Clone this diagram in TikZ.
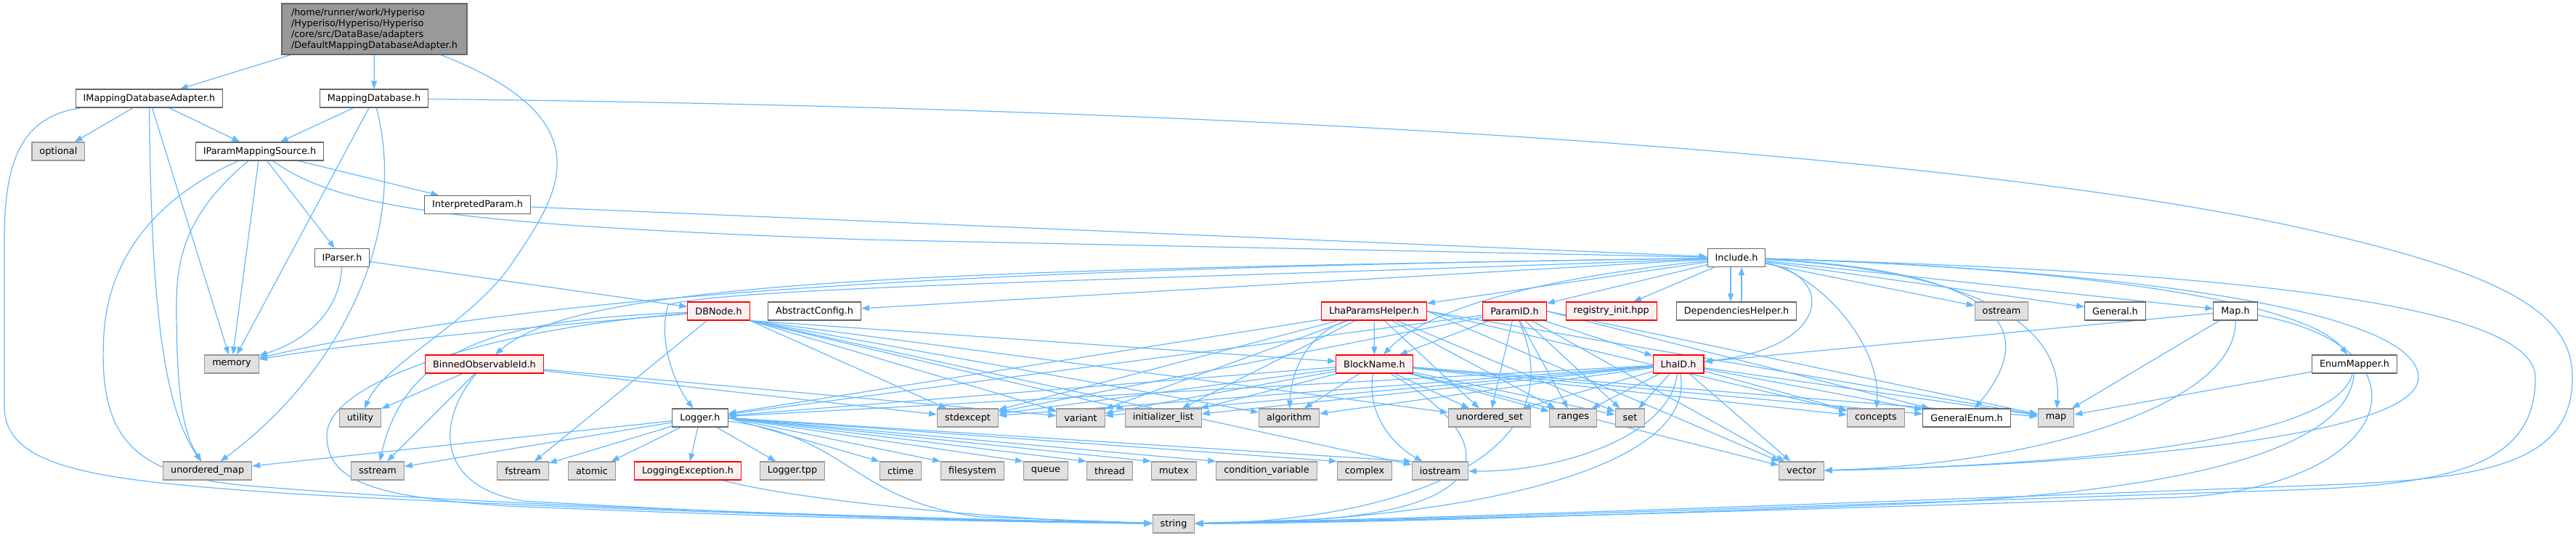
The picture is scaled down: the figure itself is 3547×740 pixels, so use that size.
\documentclass[tikz,border=0pt]{standalone}
\usepackage{fontspec}
\setmainfont{DejaVu Sans}
\usepackage{tikz}
\usetikzlibrary{positioning}
\usetikzlibrary{arrows.meta,backgrounds}
\definecolor{incblue}{HTML}{63B8FF}
\definecolor{sysgray}{HTML}{E0E0E0}
\definecolor{sysline}{HTML}{999999}
\definecolor{userline}{HTML}{666666}
\definecolor{truncpink}{HTML}{FFF0F0}
\tikzstyle{inc edge}=[-{Triangle[length=11pt,width=8pt]},draw=incblue,line width=1.2pt]
\tikzstyle{file box}=[rectangle,draw,line width=1.1pt,minimum height=25pt,inner xsep=10.5pt,inner ysep=0pt,font=\fontsize{12.8pt}{15pt}\selectfont]
\tikzstyle{sys file}=[file box,draw=sysline,fill=sysgray]
\tikzstyle{user file}=[file box,draw=userline,fill=white]
\tikzstyle{trunc file}=[file box,draw=red,fill=truncpink]
\tikzstyle{main file}=[file box,draw=userline,fill=sysline,align=left,minimum width=255pt,minimum height=70pt]
\newcommand{\filenode}[4][user file]{
  \node [#1] (#2) at (#3) {#4}
}

\begin{document}
\begin{tikzpicture}[x=1pt,y=-1pt]
        \useasboundingbox (0,0) rectangle (3547,740);
        \filenode[main file]{main}{515.5,40}{/home/runner/work/Hyperiso\\/Hyperiso/Hyperiso/Hyperiso\\/core/src/DataBase/adapters\\/DefaultMappingDatabaseAdapter.h};
        \filenode{imda}{205.5,135.5}{IMappingDatabaseAdapter.h};
        \filenode{mdb}{515,135.5}{MappingDatabase.h};
        \filenode[sys file]{optional}{80.4,208.5}{optional};
        \filenode{ipms}{357.6,208.5}{IParamMappingSource.h};
        \filenode{interp}{657.6,282}{InterpretedParam.h};
        \filenode{iparser}{471,355}{IParser.h};
        \filenode{include}{2391,355}{Include.h};
        \filenode[trunc file]{dbnode}{989.5,428.5}{DBNode.h};
        \filenode{abstractconfig}{1121.5,428.5}{AbstractConfig.h};
        \filenode[trunc file]{lhaparams}{1892,428.5}{LhaParamsHelper.h};
        \filenode[trunc file]{paramid}{2085.5,428.5}{ParamID.h};
        \filenode[trunc file]{registry}{2218.7,428.5}{registry\_init.hpp};
        \filenode{dephelper}{2391,428.5}{DependenciesHelper.h};
        \filenode[sys file]{ostream}{2756,428.5}{ostream};
        \filenode{general}{2912.5,428.5}{General.h};
        \filenode{maph}{3078,428.5}{Map.h};
        \filenode[sys file]{memory}{319,501.5}{memory};
        \filenode[trunc file]{binned}{667,501.5}{BinnedObservableId.h};
        \filenode[trunc file]{blockname}{1892.5,501.5}{BlockName.h};
        \filenode[trunc file]{lhaid}{2311,501.5}{LhaID.h};
        \filenode{enummapper}{3242,501.5}{EnumMapper.h};
        \filenode[sys file]{utility}{496,575.5}{utility};
        \filenode{logger}{964,575.5}{Logger.h};
        \filenode[sys file]{stdexcept}{1332.5,575.5}{stdexcept};
        \filenode[sys file]{variant}{1488,575.5}{variant};
        \filenode[sys file]{initlist}{1601.7,575.5}{initializer\_list};
        \filenode[sys file]{algorithm}{1775,575.5}{algorithm};
        \filenode[sys file]{uset}{2051,575.5}{unordered\_set};
        \filenode[sys file]{ranges}{2166,575.5}{ranges};
        \filenode[sys file]{set}{2244.5,575.5}{set};
        \filenode[sys file]{concepts}{2583,575.5}{concepts};
        \filenode{genenum}{2708,575.5}{GeneralEnum.h};
        \filenode[sys file]{map}{2831,575.5}{map};
        \filenode[sys file]{umap}{285.7,648.5}{unordered\_map};
        \filenode[sys file]{sstream}{520,648.5}{sstream};
        \filenode[sys file]{fstream}{720,648.5}{fstream};
        \filenode[sys file]{atomic}{815,648.5}{atomic};
        \filenode[trunc file]{loggingexc}{947,648.5}{LoggingException.h};
        \filenode[sys file]{loggertpp}{1091,648.5}{Logger.tpp};
        \filenode[sys file]{ctime}{1240,648.5}{ctime};
        \filenode[sys file]{filesystem}{1339,648.5}{filesystem};
        \filenode[sys file]{queue}{1440,648.5}{queue};
        \filenode[sys file]{thread}{1528,648.5}{thread};
        \filenode[sys file]{mutex}{1616.5,648.5}{mutex};
        \filenode[sys file]{condvar}{1744,648.5}{condition\_variable};
        \filenode[sys file]{complex}{1879,648.5}{complex};
        \filenode[sys file]{iostream}{1983,648.5}{iostream};
        \filenode[sys file]{vector}{2480.5,648.5}{vector};
        \filenode[sys file]{string}{1616,721.5}{string};

        \begin{scope}[on background layer]
        % top of the graph
        \draw[inc edge] (main) -- (imda);
        \draw[inc edge] (main) -- (mdb);
        \draw[inc edge] (main) .. controls (850,170) and (760,280) .. (700,370) .. controls (640,450) and (530,500) .. (utility);

        \draw[inc edge] (imda) -- (optional);
        \draw[inc edge] (imda) -- (ipms);
        \draw[inc edge] (imda) -- (memory);
        \draw[inc edge] (imda) .. controls (208,420) and (225,560) .. (umap);
        \draw[inc edge] (imda) .. controls (30,160) and (6,220) .. (6,330) -- (6,560) .. controls (6,650) and (150,662) .. (400,680) .. controls (800,702) and (1300,716) .. (string);

        \draw[inc edge] (mdb) -- (ipms);
        \draw[inc edge] (mdb) -- (memory);
        \draw[inc edge] (mdb) .. controls (565,330) and (460,520) .. (umap);
        \draw[inc edge] (mdb) .. controls (1800,150) and (2700,215) .. (3150,310) .. controls (3450,375) and (3542,430) .. (3542,520) .. controls (3542,640) and (3420,660) .. (3200,668) .. controls (2500,695) and (1900,716) .. (string);

        \draw[inc edge] (ipms) -- (interp);
        \draw[inc edge] (ipms) .. controls (470,290) and (650,310) .. (1190,330) -- (include);
        \draw[inc edge] (ipms) -- (iparser);
        \draw[inc edge] (ipms) -- (memory);
        \draw[inc edge] (ipms) .. controls (260,290) and (243,350) .. (243,420) .. controls (243,560) and (255,600) .. (umap);
        \draw[inc edge] (ipms) .. controls (220,270) and (150,350) .. (143,460) .. controls (135,600) and (180,652) .. (330,668) .. controls (700,700) and (1300,714) .. (string);

        \draw[inc edge] (interp) -- (include);
        \draw[inc edge] (iparser) -- (dbnode);
        \draw[inc edge] (iparser) .. controls (468,430) and (420,470) .. (memory);

        % Include.h
        \draw[inc edge] (include) .. controls (1500,368) and (800,392) .. (memory);
        \draw[inc edge] (include) .. controls (1300,372) and (800,385) .. (binned);
        \draw[inc edge] (include) .. controls (1600,385) and (1000,395) .. (920,420) .. controls (905,470) and (930,530) .. (logger);
        \draw[inc edge] (include) -- (abstractconfig);
        \draw[inc edge] (include) -- (lhaparams);
        \draw[inc edge] (include) -- (paramid);
        \draw[inc edge] (include) -- (registry);
        \draw[inc edge] ([xshift=-8pt]include.south) -- ([xshift=-8pt]dephelper.north);
        \draw[inc edge] ([xshift=7pt]dephelper.north) -- ([xshift=7pt]include.south);
        \draw[inc edge] (include) -- (ostream);
        \draw[inc edge] (include) -- (general);
        \draw[inc edge] (include) -- (maph);
        \draw[inc edge] (include) .. controls (2900,370) and (3180,420) .. (enummapper);
        \draw[inc edge] (include) .. controls (2100,385) and (1960,430) .. (blockname);
        \draw[inc edge] (include) .. controls (2530,380) and (2520,480) .. (lhaid);
        \draw[inc edge] (include) .. controls (2500,375) and (2590,470) .. (concepts);
        \draw[inc edge] (include) .. controls (2700,370) and (2830,430) .. (genenum);
        \draw[inc edge] (include) .. controls (2750,375) and (2840,460) .. (map);
        \draw[inc edge] (include) .. controls (2950,372) and (3330,430) .. (3330,520) .. controls (3330,620) and (2700,645) .. (vector);
        \draw[inc edge] (include) .. controls (2900,370) and (3491,400) .. (3491,520) .. controls (3491,640) and (3380,668) .. (3150,675) .. controls (2400,700) and (1900,718) .. (string);

        % DBNode.h
        \draw[inc edge] (dbnode) .. controls (800,445) and (500,470) .. (memory);
        \draw[inc edge] (dbnode) -- (fstream);
        \draw[inc edge] (dbnode) .. controls (700,440) and (560,470) .. (sstream);
        \draw[inc edge] (dbnode) .. controls (700,450) and (450,520) .. (450,600) .. controls (450,665) and (520,685) .. (700,697) .. controls (1100,714) and (1400,719) .. (string);
        \draw[inc edge] (dbnode.south east) -- (stdexcept);
        \draw[inc edge] (dbnode.south east) -- (variant);
        \draw[inc edge] (dbnode.south east) -- (initlist);
        \draw[inc edge] (dbnode.south east) -- (algorithm);
        \draw[inc edge] (dbnode.south east) -- (blockname);
        \draw[inc edge] (dbnode.south east) -- (uset);
        \draw[inc edge] (dbnode.south east) -- (iostream);

        % BinnedObservableId.h
        \draw[inc edge] (binned) -- (utility);
        \draw[inc edge] (binned) -- (sstream);
        \draw[inc edge] (binned) .. controls (600,580) and (600,670) .. (720,690) .. controls (1100,712) and (1400,719) .. (string);
        \draw[inc edge] (binned) -- (stdexcept);
        \draw[inc edge] (binned) -- (variant);

        % Logger.h
        \draw[inc edge] (logger) -- (fstream);
        \draw[inc edge] (logger) -- (atomic);
        \draw[inc edge] (logger) -- (loggingexc);
        \draw[inc edge] (logger) -- (loggertpp);
        \draw[inc edge] (logger.east) -- (ctime.north west);
        \draw[inc edge] (logger.east) -- (filesystem.north west);
        \draw[inc edge] (logger.east) -- (queue.north west);
        \draw[inc edge] (logger.east) -- (thread.north west);
        \draw[inc edge] (logger.east) -- (mutex.north west);
        \draw[inc edge] (logger.east) -- (condvar.north west);
        \draw[inc edge] (logger.east) -- (complex.north west);
        \draw[inc edge] (logger.east) -- (iostream.north west);
        \draw[inc edge] (logger) -- (umap);
        \draw[inc edge] (logger) -- (sstream);
        \draw[inc edge] (logger) .. controls (1170,600) and (1173,690) .. (1350,712) -- (string);
        \draw[inc edge] (loggingexc) .. controls (1100,690) and (1400,718) .. (string);

        % LhaParamsHelper.h
        \draw[inc edge] (lhaparams) -- (blockname);
        \draw[inc edge] (lhaparams) -- (logger);
        \draw[inc edge] (lhaparams) .. controls (1800,460) and (1778,510) .. (algorithm);
        \draw[inc edge] (lhaparams) -- (uset);
        \draw[inc edge] (lhaparams) -- (ranges);
        \draw[inc edge] (lhaparams) -- (set);
        \draw[inc edge] (lhaparams) -- (stdexcept);
        \draw[inc edge] (lhaparams) -- (variant);
        \draw[inc edge] (lhaparams) -- (initlist);
        \draw[inc edge] (lhaparams.east) -- (concepts);
        \draw[inc edge] (lhaparams.east) -- (map);
        \draw[inc edge] (lhaparams.east) -- (vector);

        % ParamID.h
        \draw[inc edge] (paramid) -- (blockname);
        \draw[inc edge] (paramid) -- (lhaid);
        \draw[inc edge] (paramid) -- (uset);
        \draw[inc edge] (paramid) -- (ranges);
        \draw[inc edge] (paramid) -- (set);
        \draw[inc edge] (paramid) -- (logger);
        \draw[inc edge] (paramid) -- (stdexcept);
        \draw[inc edge] (paramid.east) -- (genenum);
        \draw[inc edge] (paramid.east) -- (map);
        \draw[inc edge] (paramid) -- (vector);
        \draw[inc edge] (paramid) .. controls (2180,640) and (1900,718) .. (string);

        % BlockName.h
        \draw[inc edge] (blockname) -- (logger);
        \draw[inc edge] (blockname) -- (algorithm);
        \draw[inc edge] (blockname) -- (stdexcept);
        \draw[inc edge] (blockname) -- (variant);
        \draw[inc edge] (blockname) -- (initlist);
        \draw[inc edge] (blockname) -- (uset);
        \draw[inc edge] (blockname) -- (ranges);
        \draw[inc edge] (blockname) -- (set);
        \draw[inc edge] (blockname) .. controls (1880,580) and (1930,620) .. (iostream);
        \draw[inc edge] (blockname) -- (concepts);
        \draw[inc edge] (blockname) -- (genenum);
        \draw[inc edge] (blockname) -- (map);
        \draw[inc edge] (blockname) -- (vector);
        \draw[inc edge] (blockname) .. controls (2060,600) and (2080,700) .. (1800,716) -- (string);

        % LhaID.h
        \draw[inc edge] (lhaid) -- (logger);
        \draw[inc edge] (lhaid) -- (algorithm);
        \draw[inc edge] (lhaid) -- (stdexcept);
        \draw[inc edge] (lhaid) -- (variant);
        \draw[inc edge] (lhaid) -- (initlist);
        \draw[inc edge] (lhaid) -- (uset);
        \draw[inc edge] (lhaid) -- (ranges);
        \draw[inc edge] (lhaid) -- (set);
        \draw[inc edge] (lhaid) .. controls (2300,600) and (2150,650) .. (iostream);
        \draw[inc edge] (lhaid) .. controls (2340,650) and (2000,718) .. (string);
        \draw[inc edge] (lhaid) -- (concepts);
        \draw[inc edge] (lhaid) -- (genenum);
        \draw[inc edge] (lhaid) -- (map);
        \draw[inc edge] (lhaid) -- (vector);

        % Map.h and EnumMapper.h
        \draw[inc edge] (maph) -- (lhaid);
        \draw[inc edge] (maph) -- (map);
        \draw[inc edge] (maph) .. controls (3080,560) and (2800,640) .. (vector);
        \draw[inc edge] (maph) .. controls (3360,480) and (3300,670) .. (3000,685) .. controls (2400,705) and (1900,718) .. (string);
        \draw[inc edge] (enummapper) -- (map);
        \draw[inc edge] (enummapper) .. controls (3220,600) and (2900,640) .. (vector);
        \draw[inc edge] (enummapper) .. controls (3235,620) and (3000,680) .. (2600,695) .. controls (2200,710) and (1900,720) .. (string);
        \end{scope}
\end{tikzpicture}
\end{document}
